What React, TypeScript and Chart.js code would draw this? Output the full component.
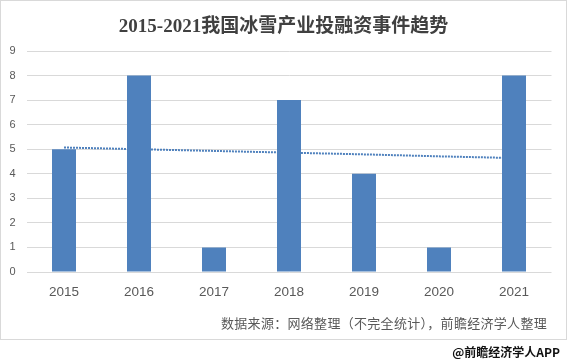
import React, { useEffect, useRef } from "react";
import { Chart, registerables } from "chart.js";

Chart.register(...registerables);

const categories = ["2015", "2016", "2017", "2018", "2019", "2020", "2021"];
const eventCounts = [5, 8, 1, 7, 4, 1, 8];
const trendValues = [5.07, 5.0, 4.93, 4.86, 4.79, 4.71, 4.64];
const yMin = 0;
const yMax = 9;
const yStep = 1;

const titleText = "2015-2021我国冰雪产业投融资事件趋势";
const sourceText = "数据来源：网络整理（不完全统计），前瞻经济学人整理";
const footerText = "@前瞻经济学人APP";

const BLUE = "#4f81bd";
const GRID = "#d9d9d9";
const TICK = "#595959";

export default function App() {
  const canvasRef = useRef<HTMLCanvasElement | null>(null);

  useEffect(() => {
    if (!canvasRef.current) return;
    const chart = new Chart(canvasRef.current, {
      type: "bar",
      data: {
        labels: categories,
        datasets: [
          {
            type: "bar",
            data: eventCounts,
            backgroundColor: BLUE,
            borderWidth: 0,
            barPercentage: 0.32,
            categoryPercentage: 1,
            order: 1,
          },
          {
            type: "line",
            data: trendValues,
            borderColor: BLUE,
            borderWidth: 2,
            borderDash: [2, 1],
            pointRadius: 0,
            fill: false,
            tension: 0,
            order: 2,
          } as any,
        ],
      },
      options: {
        animation: false,
        responsive: false,
        maintainAspectRatio: false,
        devicePixelRatio: 1,
        layout: { padding: { top: 50, right: 14.5, left: 0, bottom: 0 } },
        plugins: {
          legend: { display: false },
          title: { display: false },
          tooltip: { enabled: false },
        },
        scales: {
          x: {
            grid: { display: false, drawTicks: false },
            border: { display: false },
            ticks: {
              color: TICK,
              font: { family: "'Liberation Sans', Arial, sans-serif", size: 13.5 },
              padding: 12,
              maxRotation: 0,
            },
            afterFit: (scale: any) => {
              scale.height = 67;
            },
          },
          y: {
            min: yMin,
            max: yMax,
            grid: { color: GRID, lineWidth: 1, drawTicks: false },
            border: { display: false },
            ticks: {
              stepSize: yStep,
              color: TICK,
              font: { family: "'Liberation Sans', Arial, sans-serif", size: 11 },
              padding: 11,
            },
            afterFit: (scale: any) => {
              scale.width = 25.5;
            },
          },
        },
      },
    });
    return () => chart.destroy();
  }, []);

  return (
    <div
      style={{
        position: "absolute",
        left: 0,
        top: 0,
        width: 567,
        height: 363,
        background: "#fff",
        overflow: "hidden",
      }}
    >
      <div
        style={{
          position: "absolute",
          left: 0,
          top: 0,
          width: 565,
          height: 338,
          border: `1px solid ${GRID}`,
        }}
      >
        <canvas
          ref={canvasRef}
          width={565}
          height={338}
          style={{ position: "absolute", left: 0, top: 0, width: 565, height: 338 }}
        />
      </div>
      <div
        style={{
          position: "absolute",
          left: 1,
          top: 16,
          width: 565,
          textAlign: "center",
          fontFamily: "'Liberation Serif', 'Noto Sans CJK SC', serif",
          fontWeight: "bold",
          fontSize: 19,
          lineHeight: "19px",
          color: "#404040",
          whiteSpace: "nowrap",
        }}
      >
        {titleText}
      </div>
      <div
        style={{
          position: "absolute",
          right: 20,
          top: 316,
          fontFamily: "'Noto Sans CJK SC', sans-serif",
          fontSize: 13,
          lineHeight: "13px",
          letterSpacing: "0.3px",
          color: TICK,
          whiteSpace: "nowrap",
        }}
      >
        {sourceText}
      </div>
      <div
        style={{
          position: "absolute",
          right: 7,
          top: 346,
          fontFamily: "'Noto Sans CJK SC', sans-serif",
          fontWeight: "bold",
          fontSize: 12,
          lineHeight: "12px",
          color: "#111",
          whiteSpace: "nowrap",
        }}
      >
        {footerText}
      </div>
    </div>
  );
}
